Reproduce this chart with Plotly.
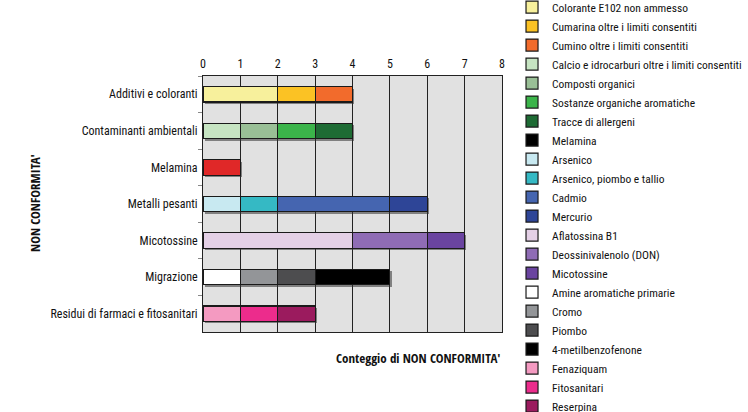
import plotly.graph_objects as go

categories = ["Additivi e coloranti", "Contaminanti ambientali", "Melamina", "Metalli pesanti",
              "Micotossine", "Migrazione", "Residui di farmaci e fitosanitari"]

series_names = ["Colorante E102 non ammesso", "Cumarina oltre i limiti consentiti", "Cumino oltre i limiti consentiti",
                "Calcio e idrocarburi oltre i limiti consentiti", "Composti organici", "Sostanze organiche aromatiche",
                "Tracce di allergeni", "Melamina", "Arsenico", "Arsenico, piombo e tallio", "Cadmio", "Mercurio",
                "Aflatossina B1", "Deossinivalenolo (DON)", "Micotossine", "Amine aromatiche primarie", "Cromo",
                "Piombo", "4-metilbenzofenone", "Fenaziquam", "Fitosanitari", "Reserpina"]
series_category = ["Additivi e coloranti"] * 3 + ["Contaminanti ambientali"] * 4 + ["Melamina"] + \
                  ["Metalli pesanti"] * 4 + ["Micotossine"] * 3 + ["Migrazione"] * 4 + \
                  ["Residui di farmaci e fitosanitari"] * 3
series_values = [2, 1, 1, 1, 1, 1, 1, 1, 1, 1, 3, 1, 4, 2, 1, 1, 1, 1, 2, 1, 1, 1]
series_colors = ["#f7f09c", "#fbc224", "#f26b2c", "#c6e4c2", "#99bf96", "#3bb44a", "#1e6b34", "#e02828",
                 "#c8e9f1", "#35b9c4", "#4565b0", "#2e4597", "#e4d0e6", "#8f6cb5", "#6a44a0", "#ffffff",
                 "#939598", "#4d4d4f", "#000000", "#f49ac1", "#ec2c8c", "#9b1b5e"]
legend_colors = list(series_colors)
legend_colors[7] = "#000000"  # the legend shows the Melamina swatch in black

# per-category totals (used only for the drop shadow behind each bar)
totals = [sum(v for c, v in zip(series_category, series_values) if c == cat) for cat in categories]

FONT = "Roboto Condensed, DejaVu Sans Condensed, sans-serif"
BOLD = "Open Sans Condensed, Roboto Condensed, sans-serif"
LINE = dict(color="#1a1a1a", width=1.2)

fig = go.Figure()
# shadow on the (hidden) main axes, slightly offset
fig.add_trace(go.Bar(x=totals, y=categories, orientation="h", showlegend=False, hoverinfo="skip",
                     marker=dict(color="rgba(50,50,50,0.55)", line=dict(width=0)), xaxis="x", yaxis="y"))

for name, cat, val, col, lcol in zip(series_names, series_category, series_values, series_colors, legend_colors):
    if col != lcol:
        fig.add_trace(go.Bar(x=[val], y=[cat], orientation="h", name=name, showlegend=False,
                             marker=dict(color=col, line=LINE), xaxis="x2", yaxis="y2"))
        fig.add_trace(go.Bar(x=[None], y=[cat], orientation="h", name=name,
                             marker=dict(color=lcol, line=LINE), xaxis="x2", yaxis="y2"))
    else:
        fig.add_trace(go.Bar(x=[val], y=[cat], orientation="h", name=name,
                             marker=dict(color=col, line=LINE), xaxis="x2", yaxis="y2"))

fig.update_layout(
    width=748, height=412,
    margin=dict(l=203, r=246, t=76, b=80, autoexpand=False),
    barmode="stack", bargap=0.58,
    plot_bgcolor="#e1e1e1", paper_bgcolor="#ffffff",
    font=dict(family=FONT, color="#111111", size=13),
    showlegend=True,
    legend=dict(x=1.0335, y=1.326, xanchor="left", yanchor="top", traceorder="normal",
                font=dict(family=FONT, size=11.5, color="#111111"), tracegroupgap=0,
                itemwidth=30, bgcolor="rgba(0,0,0,0)", maxheight=440),
    xaxis=dict(range=[-0.05, 7.95], visible=False, showgrid=False, zeroline=False),
    yaxis=dict(categoryorder="array", categoryarray=categories, range=[6.445, -0.555],
               visible=False, showgrid=False),
    xaxis2=dict(overlaying="x", side="top", range=[0, 8], dtick=1, showgrid=True, gridcolor="#222222",
                gridwidth=1, showline=True, linecolor="#222222", linewidth=1, mirror=True, zeroline=False,
                tickfont=dict(family=FONT, size=12, color="#111111"), ticks="", ticklabelstandoff=2),
    yaxis2=dict(overlaying="y", side="left", categoryorder="array", categoryarray=categories, range=[6.5, -0.5],
                showline=True, linecolor="#222222", linewidth=1, mirror=True,
                ticks="outside", tickson="boundaries", ticklen=4, tickcolor="#888888",
                tickfont=dict(family=FONT, size=12, color="#111111"), showgrid=False, ticklabelstandoff=2),
    annotations=[
        dict(text="<b>Conteggio di NON CONFORMITA'</b>", xref="paper", yref="paper", x=1.0, y=-0.10,
             xanchor="right", yanchor="middle", showarrow=False, font=dict(family=BOLD, size=13, color="#111111")),
        dict(text="<b>NON CONFORMITA'</b>", xref="paper", yref="paper", x=-0.562, y=0.504, textangle=-90,
             xanchor="center", yanchor="middle", showarrow=False, font=dict(family=BOLD, size=13, color="#111111")),
    ],
)

fig.write_html("out.html")
